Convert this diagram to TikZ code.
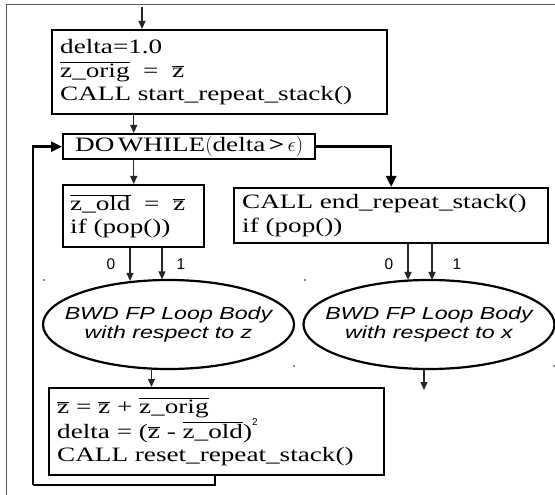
\documentclass[tikz,border=0pt]{standalone}
\usepackage{fontspec}
\setmainfont{Liberation Serif}[FakeStretch=1.33]
\setsansfont{Liberation Sans}[FakeStretch=1.33]
\newfontfamily\labelfont{Liberation Sans}
\usetikzlibrary{arrows.meta,shapes.geometric,calc}

\newcommand{\ovl}[1]{$\overline{\mbox{#1}}$}

\tikzset{
  codebox/.style={draw, line width=2.4bp, anchor=north west, inner xsep=8bp,
    inner ysep=2bp, align=left, font=\fontsize{20.5}{23.5}\selectfont},
  loopbody/.style={draw, ellipse, line width=2.2bp, inner xsep=-20bp, inner ysep=0pt,
    minimum width=251bp, minimum height=89bp, align=center,
    font=\sffamily\itshape\fontsize{17.5}{19.5}\selectfont},
  flow/.style={line width=1.2bp, draw=black!85,
    -{Triangle[length=8bp,width=7bp]}},
  bigflow/.style={line width=2.4bp, -{Triangle[length=11bp,width=10bp]}},
  loopline/.style={line width=2.4bp},
  frameline/.style={line width=1.5bp, draw=black!65},
  branch/.style={font=\labelfont\fontsize{15.5}{15.5}\selectfont},
  handle/.style={fill=black!45, inner sep=0pt, minimum size=1.2bp}
}

\begin{document}
\begin{tikzpicture}[x=1bp, y=-1bp]
\useasboundingbox (0,0) rectangle (555,495);

% outer frame (top and left edges only)
\draw[frameline] (555,4.5) -- (6.5,4.5) -- (6.5,495);

% initialisation
\node[codebox, text width=319bp, minimum height=84bp] (init) at (51,29)
  {delta=1.0\\
   \ovl{z\_orig}\ \ =\ \ \ovl{z}\\
   CALL start\_repeat\_stack()};

% loop header
\node[codebox, minimum width=252bp, minimum height=25bp, inner xsep=4bp,
  align=center] (dowhile) at (62,133)
  {DO\,WHILE$\Bigl($delta\,\textbf{>}\,$\epsilon\Bigr)$};

% loop start
\node[codebox, text width=127bp, minimum height=62bp, inner xsep=7bp] (zold) at (62,184)
  {\ovl{z\_old}\ \ =\ \ \ovl{z}\\
   if (pop())};

% after the loop
\node[codebox, text width=298bp, minimum height=55bp, inner xsep=8bp] (endbox) at (233,187)
  {CALL end\_repeat\_stack()\\
   if (pop())};

% loop bodies
\node[loopbody] (bodyz) at (168.5,324.5) {BWD FP Loop Body\\ with respect to z};
\node[loopbody] (bodyx) at (429,324.5) {BWD FP Loop Body\\ with respect to x};

% bounding handles of the loop bodies
\node[handle] (hz1) at (44,280) {};
\node[handle] (hz2) at (294,366) {};
\node[handle] (hx1) at (305,280) {};
\node[handle] (hx2) at (554,366) {};

% update of the fixed point iterate
\node[codebox, text width=319bp, minimum height=87bp] (reset) at (48,387)
  {\ovl{z} = \ovl{z} + \ovl{z\_orig}\\
   delta = (\ovl{z} - \ovl{z\_old})\raisebox{0.62em}{\labelfont\fontsize{10}{10}\selectfont 2}\\
   CALL reset\_repeat\_stack()};

% connectors
\coordinate (entry) at (142,7);
\coordinate (lz0) at (130,0);
\coordinate (lz1) at (162,0);
\coordinate (lx0) at (408,0);
\coordinate (lx1) at (432,0);
\coordinate (outz) at (151.5,0);
\coordinate (exit) at (424,390);
\coordinate (back) at (33,485);

\draw[flow] (entry) -- (entry |- init.north);
\draw[flow] (init.south -| zold.north) -- (dowhile.north -| zold.north);
\draw[flow] (dowhile.south -| zold.north) -- (zold.north);
\draw[bigflow] (dowhile.east) -| (endbox.north);

\draw[flow] (zold.south -| lz0) -- ($(lz0 |- bodyz.north)+(0,2)$);
\draw[flow] (zold.south -| lz1) -- ($(lz1 |- bodyz.north)+(0,0.5)$);
\draw[flow] (endbox.south -| lx0) -- ($(lx0 |- bodyx.north)+(0,1)$);
\draw[flow] (endbox.south -| lx1) -- ($(lx1 |- bodyx.north)+(0,1)$);

\node[branch] (bz0) at (111,264) {0};
\node[branch] (bz1) at (181,264) {1};
\node[branch] (bx0) at (389,264) {0};
\node[branch] (bx1) at (457,264) {1};

\draw[flow] (bodyz.south -| outz) -- (reset.north -| outz);
\draw[flow] (bodyx.south -| exit) -- (exit);

\draw[loopline] ($(reset.south west)+(167,0)$) |- (back);
\draw[bigflow] (back) |- (dowhile.west);

\end{tikzpicture}
\end{document}
